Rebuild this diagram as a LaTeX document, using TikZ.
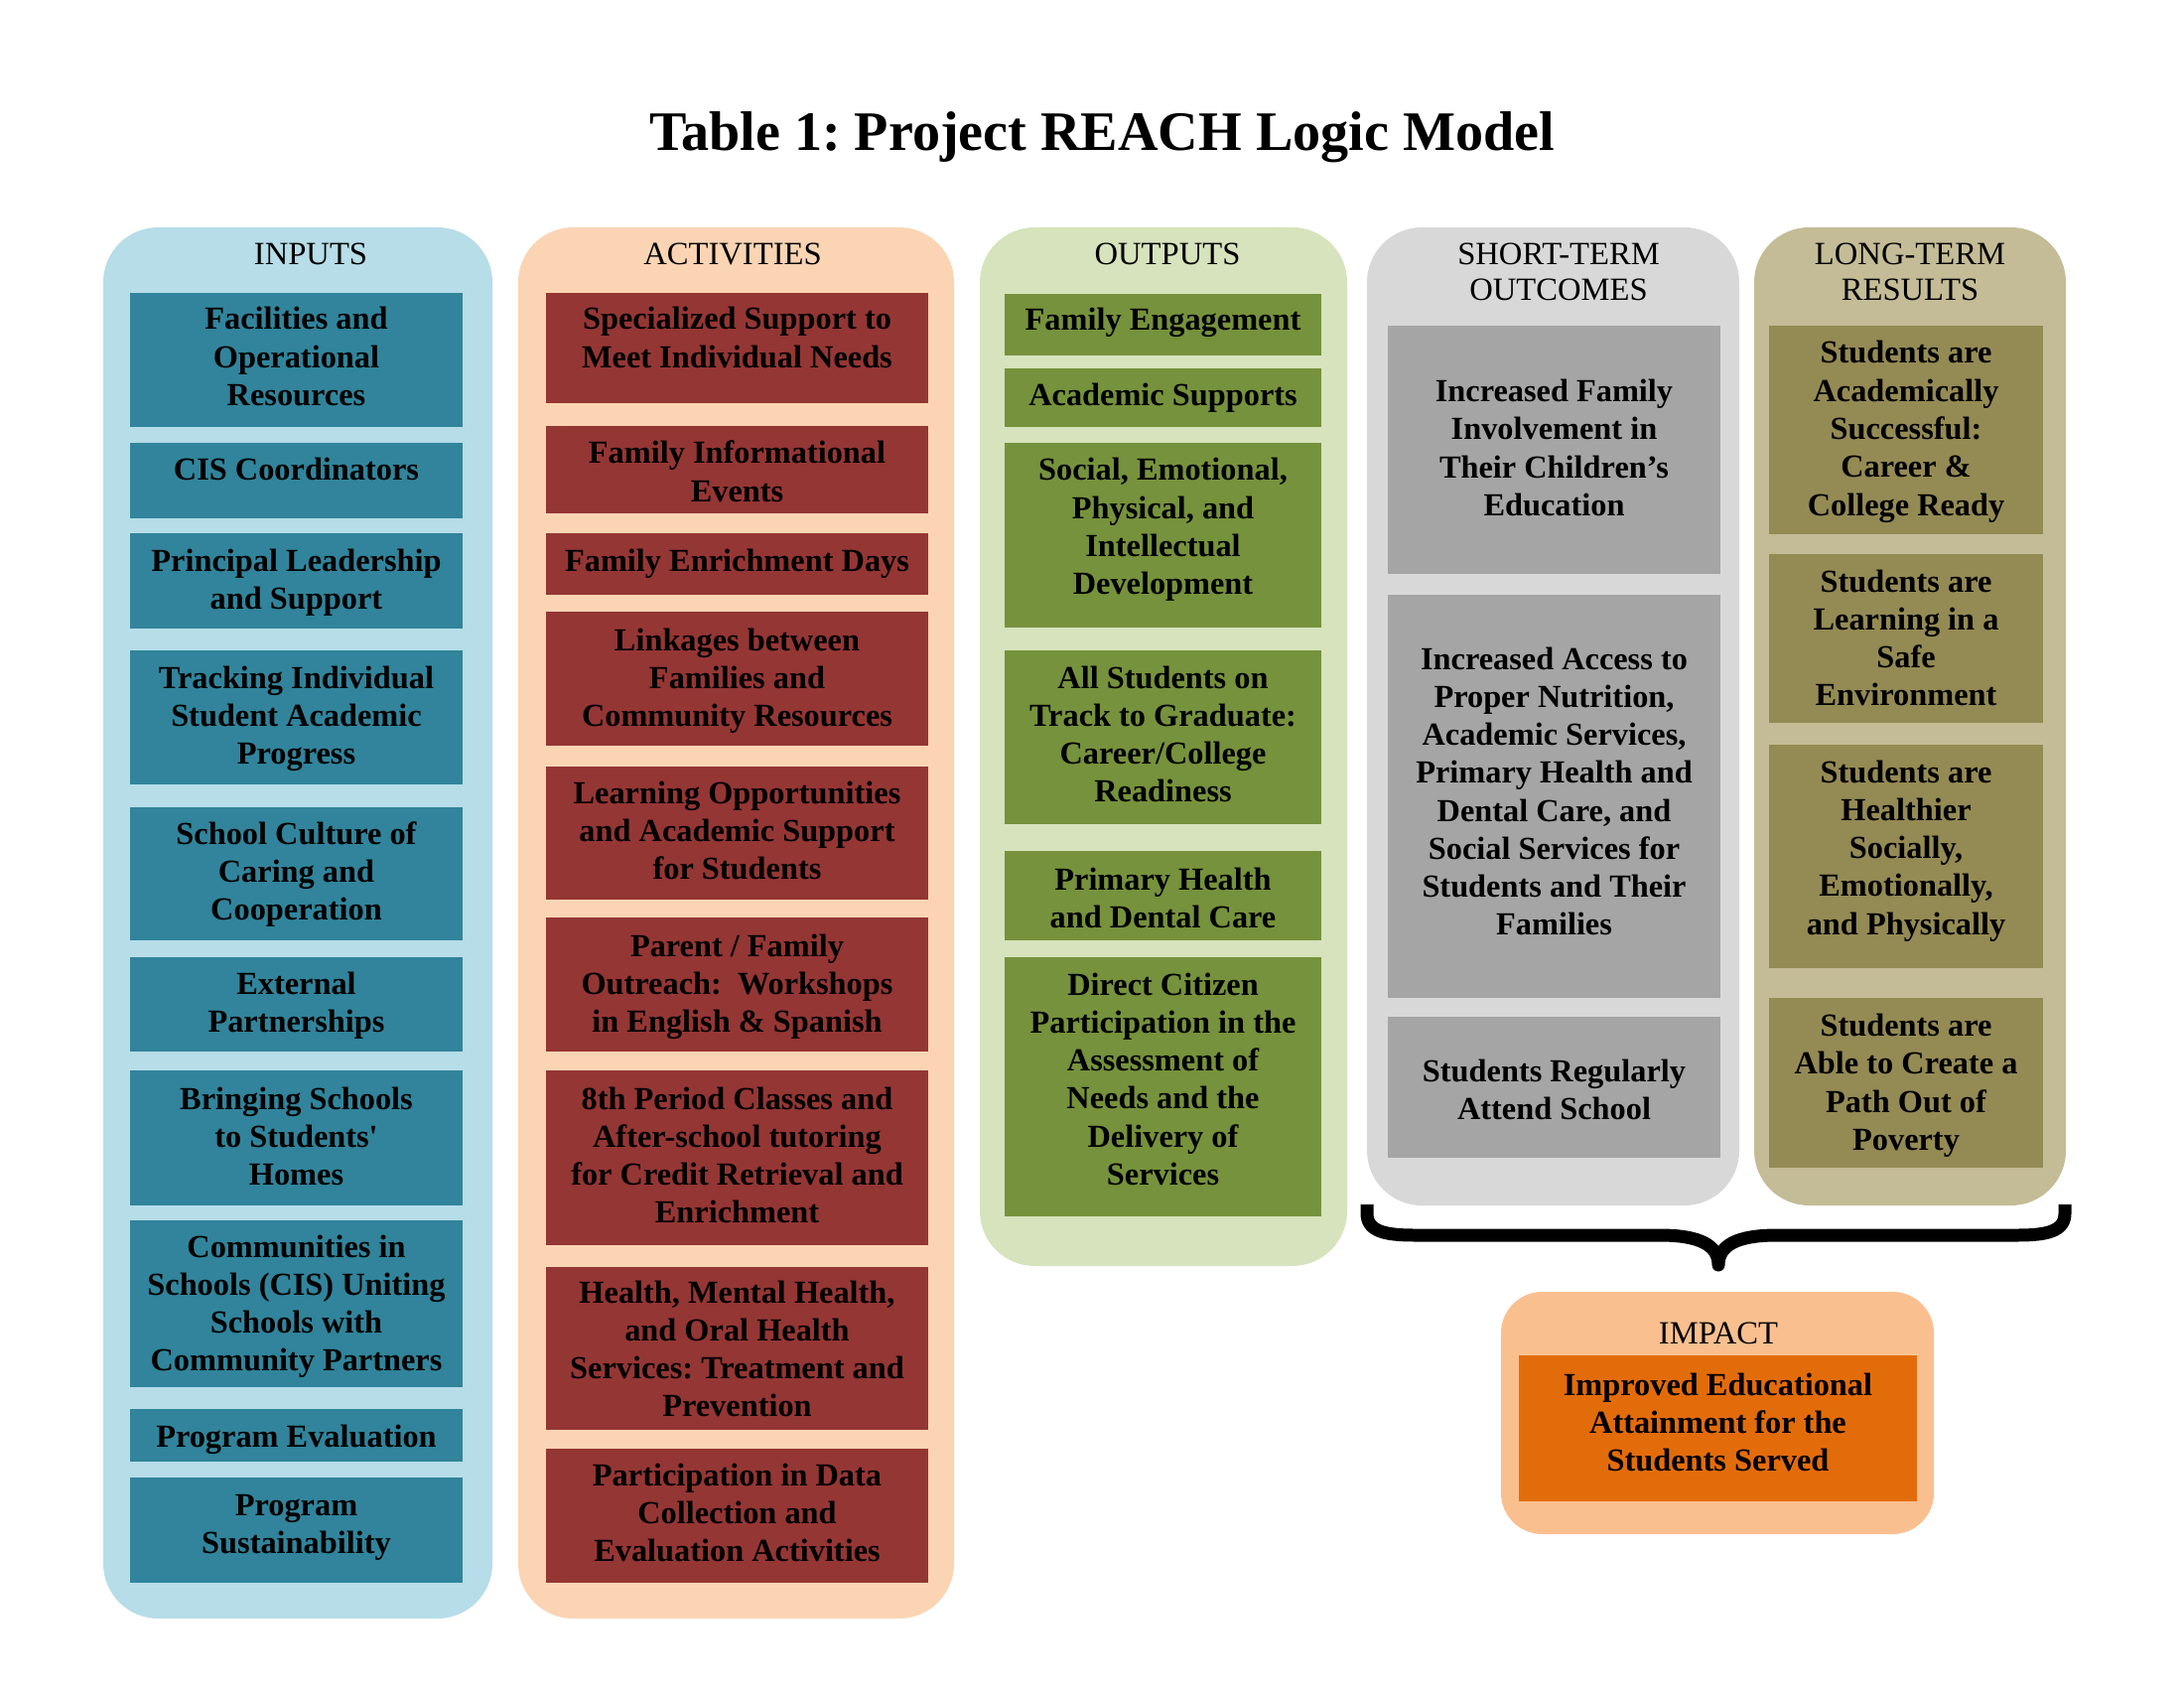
\documentclass[tikz,border=0pt]{standalone}
\usepackage{fontspec}
\newfontfamily\lsf{Liberation Serif}
\usetikzlibrary{fit}
\definecolor{inP}{HTML}{B6DDE8}
\definecolor{inB}{HTML}{31849B}
\definecolor{acP}{HTML}{FBD4B4}
\definecolor{acB}{HTML}{943634}
\definecolor{ouP}{HTML}{D6E3BC}
\definecolor{ouB}{HTML}{76923C}
\definecolor{stP}{HTML}{D8D8D8}
\definecolor{stB}{HTML}{A5A5A5}
\definecolor{ltP}{HTML}{C4BC96}
\definecolor{ltB}{HTML}{948A54}
\definecolor{imP}{HTML}{FABF8F}
\definecolor{imB}{HTML}{E36C0A}
\frenchspacing
\newcommand\bfnt{\lsf\bfseries\fontsize{11.7}{13.84}\selectfont}
\newcommand\hfnt{\lsf\fontsize{11.8}{13.0}\selectfont}
\newcommand\cellbox[6]{\node[cell, fill=#2, fit={(#3,#4)(#5,#6)}] (#1) {};}
\newcommand\celltext[4]{\node[txt] (#1) at (#2,#3) {\parbox[t]{200pt}{\centering\bfnt #4}};}
\newcommand\headtext[4]{\node[txt] (#1) at (#2,#3) {\parbox[t]{200pt}{\centering\hfnt #4}};}
\begin{document}
\begin{tikzpicture}[x=0.005in,y=-0.005in,
  panel/.style={inner sep=0pt, draw=none, rounded corners=20pt},
  cell/.style={inner sep=0pt, draw=none},
  txt/.style={anchor=base, inner sep=0pt, text=black}]
\useasboundingbox (0,0) rectangle (2200,1700);
\fill[white] (0,0) rectangle (2200,1700);

% title
\node[txt] (title) at (1110,152) {\lsf\bfseries\fontsize{20.3}{24}\selectfont Table 1: Project REACH Logic Model};

% panels
\node[panel, fill=inP, fit={(104,229)(496,1630)}] (inputs) {};
\node[panel, fill=acP, fit={(522,229)(961,1630)}] (activities) {};
\node[panel, fill=ouP, fit={(987,229)(1357,1275)}] (outputs) {};
\node[panel, fill=stP, fit={(1377,229)(1752,1214)}] (short) {};
\node[panel, fill=ltP, fit={(1767,229)(2081,1214)}] (long) {};
\node[panel, fill=imP, rounded corners=15pt, fit={(1512,1301)(1948,1545)}] (impact) {};

% headers
\headtext{hin}{313}{267}{INPUTS}
\headtext{hac}{738}{267}{ACTIVITIES}
\headtext{hou}{1176}{267}{OUTPUTS}
\headtext{hst}{1570}{267}{SHORT-TERM\\OUTCOMES}
\headtext{hlt}{1924}{267}{LONG-TERM\\RESULTS}
\headtext{him}{1731}{1353}{IMPACT}

% inputs
\cellbox{i1}{inB}{131}{295}{466}{430}
\cellbox{i2}{inB}{131}{446}{466}{522}
\cellbox{i3}{inB}{131}{537}{466}{633}
\cellbox{i4}{inB}{131}{655}{466}{790}
\cellbox{i5}{inB}{131}{813}{466}{947}
\cellbox{i6}{inB}{131}{964}{466}{1059}
\cellbox{i7}{inB}{131}{1078}{466}{1214}
\cellbox{i8}{inB}{131}{1229}{466}{1397}
\cellbox{i9}{inB}{131}{1419}{466}{1472}
\cellbox{i10}{inB}{131}{1488}{466}{1594}
\celltext{ti1}{298.5}{332}{Facilities and\\Operational\\Resources}
\celltext{ti2}{298.5}{483}{CIS Coordinators}
\celltext{ti3}{298.5}{575}{Principal Leadership\\and Support}
\celltext{ti4}{298.5}{693}{Tracking Individual\\Student Academic\\Progress}
\celltext{ti5}{298.5}{850}{School Culture of\\Caring and\\Cooperation}
\celltext{ti6}{298.5}{1001}{External\\Partnerships}
\celltext{ti7}{298.5}{1117}{Bringing Schools\\to Students'\\Homes}
\celltext{ti8}{298.5}{1266}{Communities in\\Schools (CIS) Uniting\\Schools with\\Community Partners}
\celltext{ti9}{298.5}{1457}{Program Evaluation}
\celltext{ti10}{298.5}{1526}{Program\\Sustainability}

% activities
\cellbox{a1}{acB}{550}{295}{935}{406}
\cellbox{a2}{acB}{550}{429}{935}{517}
\cellbox{a3}{acB}{550}{537}{935}{599}
\cellbox{a4}{acB}{550}{616}{935}{751}
\cellbox{a5}{acB}{550}{772}{935}{906}
\cellbox{a6}{acB}{550}{924}{935}{1059}
\cellbox{a7}{acB}{550}{1078}{935}{1254}
\cellbox{a8}{acB}{550}{1276}{935}{1440}
\cellbox{a9}{acB}{550}{1459}{935}{1594}
\celltext{ta1}{742.5}{332}{Specialized Support to\\Meet Individual Needs}
\celltext{ta2}{742.5}{467}{Family Informational\\Events}
\celltext{ta3}{742.5}{575}{Family Enrichment Days}
\celltext{ta4}{742.5}{655}{Linkages between\\Families and\\Community Resources}
\celltext{ta5}{742.5}{809}{Learning Opportunities\\and Academic Support\\for Students}
\celltext{ta6}{742.5}{963}{Parent / Family\\Outreach:~ Workshops\\in English \& Spanish}
\celltext{ta7}{742.5}{1117}{8th Period Classes and\\After-school tutoring\\for Credit Retrieval and\\Enrichment}
\celltext{ta8}{742.5}{1312}{Health, Mental Health,\\and Oral Health\\Services: Treatment and\\Prevention}
\celltext{ta9}{742.5}{1496}{Participation in Data\\Collection and\\Evaluation Activities}

% outputs
\cellbox{o1}{ouB}{1012}{296}{1331}{358}
\cellbox{o2}{ouB}{1012}{371}{1331}{430}
\cellbox{o3}{ouB}{1012}{446}{1331}{632}
\cellbox{o4}{ouB}{1012}{655}{1331}{830}
\cellbox{o5}{ouB}{1012}{857}{1331}{947}
\cellbox{o6}{ouB}{1012}{964}{1331}{1225}
\celltext{to1}{1171.5}{333}{Family Engagement}
\celltext{to2}{1171.5}{409}{Academic Supports}
\celltext{to3}{1171.5}{484}{Social, Emotional,\\Physical, and\\Intellectual\\Development}
\celltext{to4}{1171.5}{693}{All Students on\\Track to Graduate:\\Career/College\\Readiness}
\celltext{to5}{1171.5}{896}{Primary Health\\and Dental Care}
\celltext{to6}{1171.5}{1002}{Direct Citizen\\Participation in the\\Assessment of\\Needs and the\\Delivery of\\Services}

% short-term outcomes
\cellbox{s1}{stB}{1398}{328}{1733}{578}
\cellbox{s2}{stB}{1398}{599}{1733}{1005}
\cellbox{s3}{stB}{1398}{1024}{1733}{1166}
\celltext{ts1}{1565.5}{404.5}{Increased Family\\Involvement in\\Their Children’s\\Education}
\celltext{ts2}{1565.5}{674}{Increased Access to\\Proper Nutrition,\\Academic Services,\\Primary Health and\\Dental Care, and\\Social Services for\\Students and Their\\Families}
\celltext{ts3}{1565.5}{1089}{Students Regularly\\Attend School}

% long-term results
\cellbox{l1}{ltB}{1782}{328}{2058}{538}
\cellbox{l2}{ltB}{1782}{558}{2058}{728}
\cellbox{l3}{ltB}{1782}{750}{2058}{975}
\cellbox{l4}{ltB}{1782}{1005}{2058}{1176}
\celltext{tl1}{1920}{366}{Students are\\Academically\\Successful:\\Career \&\\College Ready}
\celltext{tl2}{1920}{596}{Students are\\Learning in a\\Safe\\Environment}
\celltext{tl3}{1920}{788}{Students are\\Healthier\\Socially,\\Emotionally,\\and Physically}
\celltext{tl4}{1920}{1043.5}{Students are\\Able to Create a\\Path Out of\\Poverty}

% impact
\cellbox{m1}{imB}{1530}{1365}{1931}{1512}
\celltext{tm1}{1730.5}{1405}{Improved Educational\\Attainment for the\\Students Served}

% brace
\coordinate (braceL) at (1377,1213);
\coordinate (braceR) at (2080,1213);
\coordinate (braceTip) at (1731,1274);
\draw[line width=4.7pt, line join=round, line cap=butt]
  (braceL) -- (1377,1222) .. controls (1377,1240) and (1395,1244) .. (1425,1244)
  -- (1672,1244) .. controls (1712,1244) and (1731,1254) .. (braceTip)
  .. controls (1731,1254) and (1750,1244) .. (1790,1244)
  -- (2032,1244) .. controls (2062,1244) and (2080,1240) .. (2080,1222) -- (braceR);
\end{tikzpicture}
\end{document}
